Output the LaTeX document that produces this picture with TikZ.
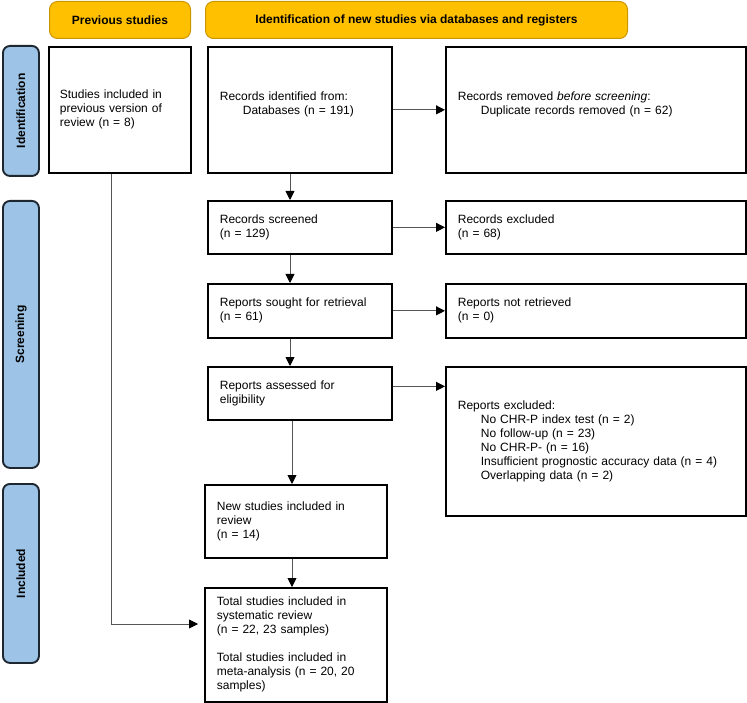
\documentclass[tikz,border=0pt]{standalone}
\usepackage{fontspec}
\setmainfont{Liberation Sans}
\usetikzlibrary{arrows.meta}
\definecolor{hdrfill}{HTML}{FFC000}
\definecolor{hdrdraw}{HTML}{C99700}
\definecolor{barfill}{HTML}{9DC3E6}
\definecolor{bardraw}{HTML}{1E2630}
\definecolor{linegray}{HTML}{555555}
\begin{document}
\begin{tikzpicture}[x=1pt,y=-1pt,
  every node/.style={font=\fontsize{12}{14}\selectfont},
  box/.style={draw=black,line width=1.7pt,fill=white,anchor=north west,
    inner xsep=12pt,inner ysep=0pt,align=left},
  hdr/.style={draw=hdrdraw,line width=1pt,fill=hdrfill,rounded corners=8pt,
    anchor=north west,inner sep=0pt,font=\fontsize{12}{14}\selectfont\bfseries},
  sidebar/.style={draw=bardraw,line width=1.9pt,fill=barfill,rounded corners=7pt,
    anchor=north west,inner sep=0pt},
  sidetext/.style={rotate=90,font=\fontsize{12}{14}\selectfont\bfseries},
  arr/.style={draw=linegray,line width=0.9pt,
    -{Triangle[length=9pt,width=9pt,color=black]}},
  plain/.style={draw=linegray,line width=0.9pt}
]
\useasboundingbox (0,0) rectangle (747,703);

% headers
\node[hdr,minimum width=141pt,minimum height=37pt] (hprev) at (49,1) {Previous studies};
\node[hdr,minimum width=422pt,minimum height=37pt] (hnew) at (205,1) {Identification of new studies via databases and registers};

% side bars
\node[sidebar,minimum width=36pt,minimum height=130pt] (sid) at (2,45) {};
\node[sidetext] (tid) at (sid.center) {Identification};
\node[sidebar,minimum width=36pt,minimum height=267pt] (sscr) at (2,200) {};
\node[sidetext] (tscr) at (sscr.center) {Screening};
\node[sidebar,minimum width=36pt,minimum height=179pt] (sinc) at (2,483) {};
\node[sidetext] (tinc) at (sinc.center) {Included};

% boxes
\node[box,inner xsep=11pt,text width=120pt,minimum height=126pt] (prev) at (48,46)
  {Studies included in\\previous version of\\review (n = 8)};
\node[box,text width=160pt,minimum height=126pt] (rid) at (207,46)
  {Records identified from:\\\hspace*{23pt}Databases (n = 191)\\\mbox{}};
\node[box,text width=276pt,minimum height=126pt] (rrm) at (445,46)
  {Records removed \emph{before screening}:\\\hspace*{23pt}Duplicate records removed (n = 62)\\\mbox{}};
\node[box,text width=160pt,minimum height=53pt] (rsc) at (207,200)
  {Records screened\\(n = 129)};
\node[box,text width=276pt,minimum height=53pt] (rex) at (445,200)
  {Records excluded\\(n = 68)};
\node[box,text width=160pt,minimum height=54pt] (rso) at (207,283)
  {Reports sought for retrieval\\(n = 61)};
\node[box,text width=276pt,minimum height=54pt] (rnr) at (445,283)
  {Reports not retrieved\\(n = 0)};
\node[box,text width=160pt,minimum height=53pt] (ras) at (207,366)
  {Reports assessed for\\eligibility};
\node[box,text width=276pt,minimum height=149pt] (rre) at (445,366)
  {Reports excluded:\\
   \hspace*{23pt}No CHR-P index test (n = 2)\\
   \hspace*{23pt}No follow-up (n = 23)\\
   \hspace*{23pt}No CHR-P- (n = 16)\\
   \hspace*{23pt}Insufficient prognostic accuracy data (n = 4)\\
   \hspace*{23pt}Overlapping data (n = 2)};
\node[box,text width=158pt,minimum height=73pt] (nsi) at (204,484)
  {New studies included in\\review\\(n = 14)};
\node[box,text width=158pt,minimum height=114pt] (tot) at (204,587)
  {Total studies included in\\systematic review\\(n = 22, 23 samples)\\[14pt]Total studies included in\\meta-analysis (n = 20, 20\\samples)};

% connector helpers
\coordinate (colA) at (290,0);
\coordinate (colB) at (292,0);
\coordinate (lk) at (111,624);

% vertical arrows
\draw[arr] (rid.south -| colA) -- (rsc.north -| colA);
\draw[arr] (rsc.south -| colA) -- (rso.north -| colA);
\draw[arr] (rso.south -| colA) -- (ras.north -| colA);
\draw[arr] (ras.south -| colB) -- (nsi.north -| colB);
\draw[arr] (nsi.south -| colB) -- (tot.north -| colB);

% horizontal arrows
\draw[arr] (rid.east) -- (rrm.west);
\draw[arr] (rsc.east) -- (rex.west);
\draw[arr] (rso.east) -- (rnr.west);
\draw[arr] ([yshift=7pt]ras.east) -- ([yshift=7pt]ras.east -| rre.west);

% previous studies link
\draw[arr] (prev.south -| lk) -- (lk) -- ([xshift=-6pt]tot.west |- lk);
\end{tikzpicture}
\end{document}
